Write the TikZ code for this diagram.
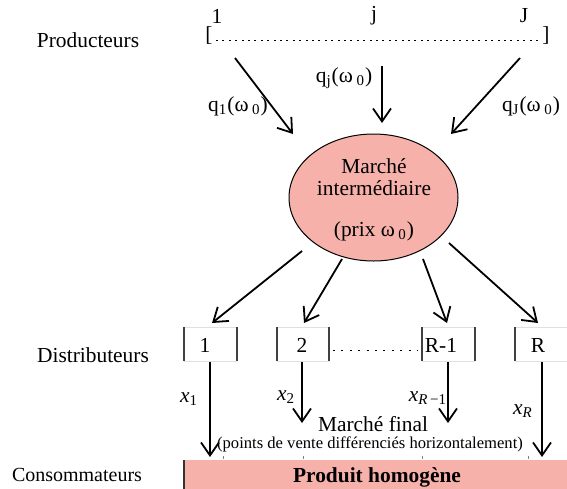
\documentclass[tikz,border=0pt]{standalone}
\usepackage{fontspec}
\setmainfont{Liberation Serif}
\usetikzlibrary{arrows.meta,shapes.geometric}
\definecolor{salmon}{RGB}{246,178,170}
\tikzset{
  lbl/.style={font=\fontsize{10.7}{12}\selectfont, inner sep=0pt},
  small/.style={font=\fontsize{8.3}{10}\selectfont, inner sep=0pt},
  arr/.style={line width=0.9pt, -{Straight Barb[length=6.5pt,width=9pt,line width=0.9pt]}},
  bar/.style={line width=0.6pt, draw=black!75},
  faint/.style={line width=0.3pt, draw=black!12},
}
\begin{document}
\begin{tikzpicture}[x=0.5pt,y=-0.5pt]
\useasboundingbox (0,0) rectangle (567,488);
% left labels
\node[lbl] (prod) at (88,40) {Producteurs};
\node[lbl] (dist) at (93,355) {Distributeurs};
\node[lbl, font=\fontsize{10}{12}\selectfont] (cons) at (77,475) {Consommateurs};
% producers
\node[lbl] (p1) at (217,16) {1};
\node[lbl] (pj) at (374,16) {j};
\node[lbl] (pJ) at (524,16) {J};
\node[lbl] (lb) at (209,36) {[};
\node[lbl] (rb) at (546,36) {]};
\draw[line width=0.5pt, dash pattern=on 1pt off 2.2pt] (216,40) -- (541,40);
% arrows from producers
\coordinate (s1) at (235,58);
\coordinate (t1) at (293,134);
\coordinate (sj) at (382,66);
\coordinate (tj) at (382,123);
\coordinate (sJ) at (520,58);
\coordinate (tJ) at (451,134);
\draw[arr] (s1) -- (t1);
\draw[arr] (sj) -- (tj);
\draw[arr] (sJ) -- (tJ);
\node[lbl] (q1) at (238,106) {q\textsubscript{1}(ω\,\textsubscript{0})};
\node[lbl] (qj) at (344,78) {q\textsubscript{j}(ω\,\textsubscript{0})};
\node[lbl] (qJ) at (531,106) {q\textsubscript{J}(ω\,\textsubscript{0})};
% ellipse
\node[draw=black, line width=0.5pt, fill=salmon, ellipse, minimum width=169*0.5pt, minimum height=127*0.5pt, inner sep=0pt] (mi) at (373.5,197.5) {};
\node[lbl] (mt1) at (374,166) {Marché};
\node[lbl] (mt2) at (374,188) {intermédiaire};
\node[lbl] (mt3) at (374,231) {(prix ω\,\textsubscript{0})};
% arrows to distributors
\coordinate (e1) at (302,251);
\coordinate (d1) at (212,323);
\coordinate (e2) at (342,259);
\coordinate (d2) at (304,323);
\coordinate (e3) at (423,259);
\coordinate (d3) at (447,323);
\coordinate (e4) at (449,243);
\coordinate (d4) at (538,323);
\draw[arr] (e1) -- (d1);
\draw[arr] (e2) -- (d2);
\draw[arr] (e3) -- (d3);
\draw[arr] (e4) -- (d4);
% distributor boxes
\foreach \a/\b in {184/237, 277/329, 422/475, 515/575}{
  \draw[faint] (\a,327) -- (\b,327);
  \draw[faint] (\a,361) -- (\b,361);
  \draw[bar] (\a,327) -- (\a,361);
  \draw[bar] (\b,327) -- (\b,361);
}
\node[lbl] (b1) at (205,345) {1};
\node[lbl] (b2) at (302,345) {2};
\node[lbl] (b3) at (441,345) {R-1};
\node[lbl] (b4) at (538,345) {R};
\draw[line width=0.5pt, dash pattern=on 1pt off 3.2pt] (333,350) -- (418,350);
% arrows down
\coordinate (u1) at (210,362);
\coordinate (v1) at (210,457);
\coordinate (u2) at (302,362);
\coordinate (v2) at (302,423);
\coordinate (u3) at (448,362);
\coordinate (v3) at (448,423);
\coordinate (u4) at (542,362);
\coordinate (v4) at (542,457);
\draw[arr] (u1) -- (v1);
\draw[arr] (u2) -- (v2);
\draw[arr] (u3) -- (v3);
\draw[arr] (u4) -- (v4);
\node[lbl] (x1) at (189,399) {\textit{x}\textsubscript{1}};
\node[lbl] (x2) at (286,397) {\textit{x}\textsubscript{2}};
\node[lbl] (x3) at (428,398) {\textit{x}\textsubscript{\textit{R}\,−1}};
\node[lbl] (x4) at (523,411) {\textit{x}\textsubscript{\textit{R}}};
\node[lbl] (mf) at (373,424) {Marché final};
\node[small] (pv) at (370,444) {(points de vente différenciés horizontalement)};
% final rectangle
\fill[salmon] (184,460) rectangle (575,495);
\draw[line width=0.7pt, draw=black!80] (184,460) -- (184,495);
\foreach \t in {223,303,422,528}{
  \draw[line width=0.3pt, draw=black!50] (\t,456) -- (\t,459);
}
\node[lbl, font=\fontsize{10.7}{12}\selectfont\bfseries] (ph) at (377,477) {Produit homogène};
\end{tikzpicture}
\end{document}
